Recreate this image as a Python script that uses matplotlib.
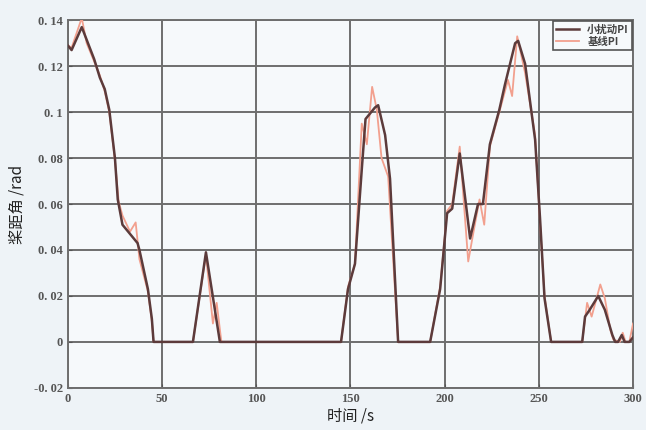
import matplotlib
matplotlib.use("Agg")
import matplotlib.pyplot as plt

plt.rcParams['font.family'] = ['Liberation Serif', 'Noto Sans CJK SC', 'DejaVu Sans']

# Pitch angle traces (time in s, angle in rad)
t_small = [0, 2, 7.4, 14, 17, 19.6, 22, 25, 26.5, 29, 33, 37, 38, 42.5, 44.6, 45.5,
           66.4, 73.3, 80.7,
           145, 148.7, 152.4, 156, 158, 163, 164.7, 168.4, 171, 175.3,
           192.3, 197.6, 201.3, 204, 208, 213.5, 217.7, 220.3, 224, 229, 232, 237.4, 239,
           242.7, 248, 250.6, 253, 256.5,
           273, 274.5, 277, 281.5, 285, 289, 290.5, 292, 294, 295.5, 298, 300]
v_small = [0.129, 0.127, 0.137, 0.123, 0.115, 0.110, 0.101, 0.080, 0.062, 0.051, 0.047, 0.043, 0.040, 0.023, 0.010, 0.0,
           0.0, 0.039, 0.0,
           0.0, 0.023, 0.034, 0.075, 0.097, 0.102, 0.103, 0.090, 0.071, 0.0,
           0.0, 0.023, 0.056, 0.058, 0.082, 0.045, 0.060, 0.060, 0.086, 0.101, 0.112, 0.130, 0.131,
           0.121, 0.088, 0.054, 0.019, 0.0,
           0.0, 0.011, 0.014, 0.020, 0.014, 0.003, 0.0, 0.0, 0.003, 0.0, 0.0, 0.002]

t_base = [0, 2, 7.4, 10, 14, 17, 19.6, 22, 25, 27, 29, 33, 36, 38, 42.5, 44.6, 45.5,
          66.4, 73.3, 77, 79, 81.5,
          145, 148.7, 152.4, 156, 158.7, 161.5, 164, 166.5, 170, 175.3,
          192.3, 197.6, 201.3, 204, 208, 212.5, 216, 218.5, 221, 224, 229, 233.6, 235.8, 238.5,
          242.7, 248, 250.6, 253, 256.5,
          273, 275.6, 278, 282.6, 285, 288, 289.5, 293, 294.5, 296, 298, 300]
v_base = [0.129, 0.128, 0.141, 0.130, 0.122, 0.116, 0.109, 0.100, 0.079, 0.061, 0.055, 0.048, 0.052, 0.036, 0.022, 0.009, 0.0,
          0.0, 0.038, 0.008, 0.017, 0.0,
          0.0, 0.024, 0.034, 0.095, 0.086, 0.111, 0.101, 0.080, 0.072, 0.0,
          0.0, 0.024, 0.057, 0.060, 0.085, 0.035, 0.051, 0.062, 0.051, 0.085, 0.100, 0.114, 0.107, 0.133,
          0.117, 0.090, 0.052, 0.020, 0.0,
          0.0, 0.017, 0.011, 0.025, 0.019, 0.005, 0.001, 0.0, 0.004, 0.0, 0.0, 0.008]

x_ticks = [0, 50, 100, 150, 200, 250, 300]
y_ticks = [-0.02, 0, 0.02, 0.04, 0.06, 0.08, 0.1, 0.12, 0.14]
y_labels = ['-0. 02', '0', '0. 02', '0. 04', '0. 06', '0. 08', '0. 1', '0. 12', '0. 14']
labels = ['小扰动PI', '基线PI']

fig = plt.figure(figsize=(6.46, 4.30), dpi=100)
fig.patch.set_facecolor('#eef3f7')
ax = fig.add_axes([0.105, 0.098, 0.875, 0.855])
ax.set_facecolor('#f6f9fb')

ax.plot(t_small, v_small, color='#5c3b3b', lw=1.8, label=labels[0], zorder=4)
ax.plot(t_base, v_base, color='#f2a08e', lw=1.3, label=labels[1], zorder=3)

ax.set_xlim(0, 300)
ax.set_ylim(-0.02, 0.14)
ax.set_xticks(x_ticks)
ax.set_yticks(y_ticks)
ax.set_yticklabels(y_labels)
ax.grid(True, color='#6e6e6e', lw=1.4)
ax.set_axisbelow(True)
for s in ax.spines.values():
    s.set_color('#6e6e6e')
    s.set_linewidth(1.4)
ax.tick_params(axis='both', colors='#555555', labelsize=9, length=3, direction='in')
for lab in ax.get_xticklabels() + ax.get_yticklabels():
    lab.set_fontweight('bold')

ax.set_xlabel('时间 /s', fontsize=11, color='#222222', labelpad=2,
              family=['Noto Sans CJK SC', 'Liberation Serif'])
ax.set_ylabel('桨距角 /rad', fontsize=11, color='#222222', labelpad=6,
              family=['Noto Sans CJK SC', 'Liberation Serif'])

leg = ax.legend(loc='upper right', fontsize=7.5, frameon=True, fancybox=False,
                handlelength=2.2, borderpad=0.3, labelspacing=0.2,
                borderaxespad=0.1, prop={'family': ['Noto Sans CJK SC'], 'size': 7.5, 'weight': 'bold'})
leg.get_frame().set_edgecolor('#555555')
leg.get_frame().set_linewidth(1.2)
leg.get_frame().set_facecolor('#f6f9fb')
leg.get_frame().set_alpha(1)
for txt in leg.get_texts():
    txt.set_color('#444444')

fig.savefig('out.png', dpi=100, facecolor=fig.get_facecolor())
